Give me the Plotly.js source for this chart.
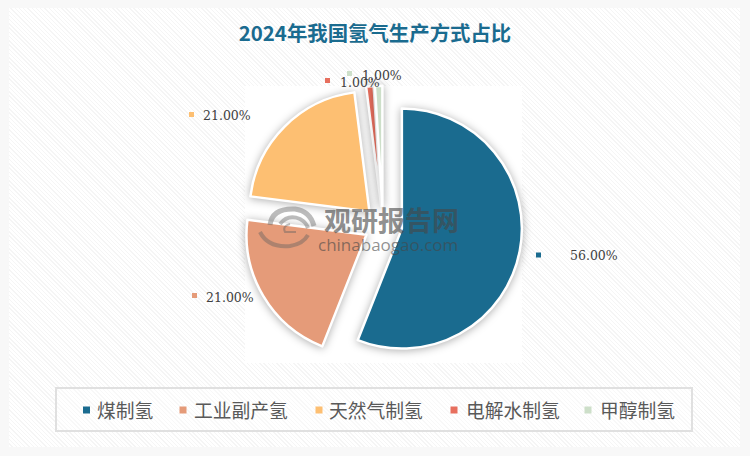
<!DOCTYPE html>
<html><head><meta charset="utf-8">
<script src="https://cdn.plot.ly/plotly-3.0.1.min.js"></script>
<style>
html,body{margin:0;padding:0;background:#f8f8f8;width:750px;height:456px;overflow:hidden}
#panel{position:absolute;left:9px;top:8px;width:731px;height:439px;
background:repeating-linear-gradient(45deg,#ffffff 0,#ffffff 2px,#f5f5f5 2px,#f5f5f5 3px)}
#chart{position:absolute;left:0;top:0;width:750px;height:456px}
.slice path.surface{filter:drop-shadow(0 1px 4px rgba(0,0,0,.32))}
</style></head><body>
<div id="panel"></div><div id="chart"></div>
<script>
var titleText = '2024年我国氢气生产方式占比';
var categories = ['煤制氢','工业副产氢','天然气制氢','电解水制氢','甲醇制氢'];
var values = [56,21,21,1,1];
var colors = ['#1a6b8f','#e59b79','#fdbf72','#e76f5e','#cddfc9'];
var labelX = [570,206,203,340,362];
var labelY = [255,297,115,82,76];
var labelMarkX = [538.5,194.5,191.5,327.5,349.5];
var labelMarkY = [255,295.5,114.5,80.5,73.5];
var legendMarkX = [86.5,183,319,454,588];
var legendTextX = [97,194,329,466,600];
var W=750,H=456;
var cx=383,cy=225,r=120,pull=0.16;
var half=r*(1+pull);
function px(x){return x/W}
function py(y){return 1-y/H}
var shapes=[
 {type:'rect',xref:'paper',yref:'paper',x0:px(245),x1:px(522),y0:py(363),y1:py(86),fillcolor:'#fff',line:{width:0},layer:'below'},
 {type:'rect',xref:'paper',yref:'paper',x0:px(56),x1:px(692),y0:py(431),y1:py(388),fillcolor:'rgba(255,255,255,.35)',line:{color:'#e0e0e0',width:2},layer:'below'}
];
var ann=[];
function txt(x,y,t,size,color,family,anchor,bold){
 ann.push({xref:'paper',yref:'paper',x:px(x),y:py(y),text:bold?'<b>'+t+'</b>':t,showarrow:false,xanchor:anchor||'left',yanchor:'middle',
  font:{size:size,color:color,family:family},borderpad:0,borderwidth:0});
}
function sq(x,y,s,c){shapes.push({type:'rect',xref:'paper',yref:'paper',x0:px(x-s/2),x1:px(x+s/2),y0:py(y+s/2),y1:py(y-s/2),fillcolor:c,line:{width:0},layer:'above'});}
var cjk='"Noto Sans CJK SC"';
values.forEach(function(v,i){
 sq(labelMarkX[i],labelMarkY[i],5,colors[i]);
 txt(labelX[i],labelY[i],v.toFixed(2)+'%',12.5,'#404040','"DejaVu Serif"');
 sq(legendMarkX[i],410,7,colors[i]);
 txt(legendTextX[i],409,categories[i],18.8,'#595959',cjk);
});
// watermark
txt(391.5,220,'观研报告网',27,'rgba(70,70,70,.62)',cjk,'center',true);
txt(388,244,'chinabaogao.com',17,'rgba(70,70,70,.6)','"Open Sans"','center');
// watermark logo: swooshes given in pixel coordinates, converted to paper space
function logo(pts,w){
 var d='M '+px(pts[0])+','+py(pts[1]);
 for(var i=2;i<pts.length;i+=4){d+=' Q '+px(pts[i])+','+py(pts[i+1])+' '+px(pts[i+2])+','+py(pts[i+3]);}
 shapes.push({type:'path',xref:'paper',yref:'paper',path:d,line:{color:'rgba(95,95,95,.42)',width:w},layer:'above'});
}
logo([270,225,272,208,295,209,310,211,314,226],5);
logo([280,224,288,214,300,219,306,222,308,228],4);
logo([260,232,268,248,290,246,303,244,308,235],4);
logo([296,232,290,232,285,232,282,226,290,224],2);
var data=[{type:'pie',labels:categories,values:values,sort:false,direction:'clockwise',rotation:0,
 pull:values.map(function(){return pull}),textinfo:'none',hoverinfo:'label+percent',
 marker:{colors:colors,line:{color:'#ffffff',width:2.5}},
 domain:{x:[px(cx-half),px(cx+half)],y:[py(cy+half),py(cy-half)]}}];
var layout={width:W,height:H,margin:{l:0,r:0,t:0,b:0},paper_bgcolor:'rgba(0,0,0,0)',plot_bgcolor:'rgba(0,0,0,0)',showlegend:false,
 title:{text:'<b>'+titleText+'</b>',font:{size:20.4,color:'#1a6b8f',family:cjk},x:0.5,xanchor:'center',y:py(33.5),yanchor:'middle'},
 shapes:shapes,annotations:ann};
Plotly.newPlot('chart',data,layout,{displayModeBar:false,staticPlot:true});
</script></body></html>
